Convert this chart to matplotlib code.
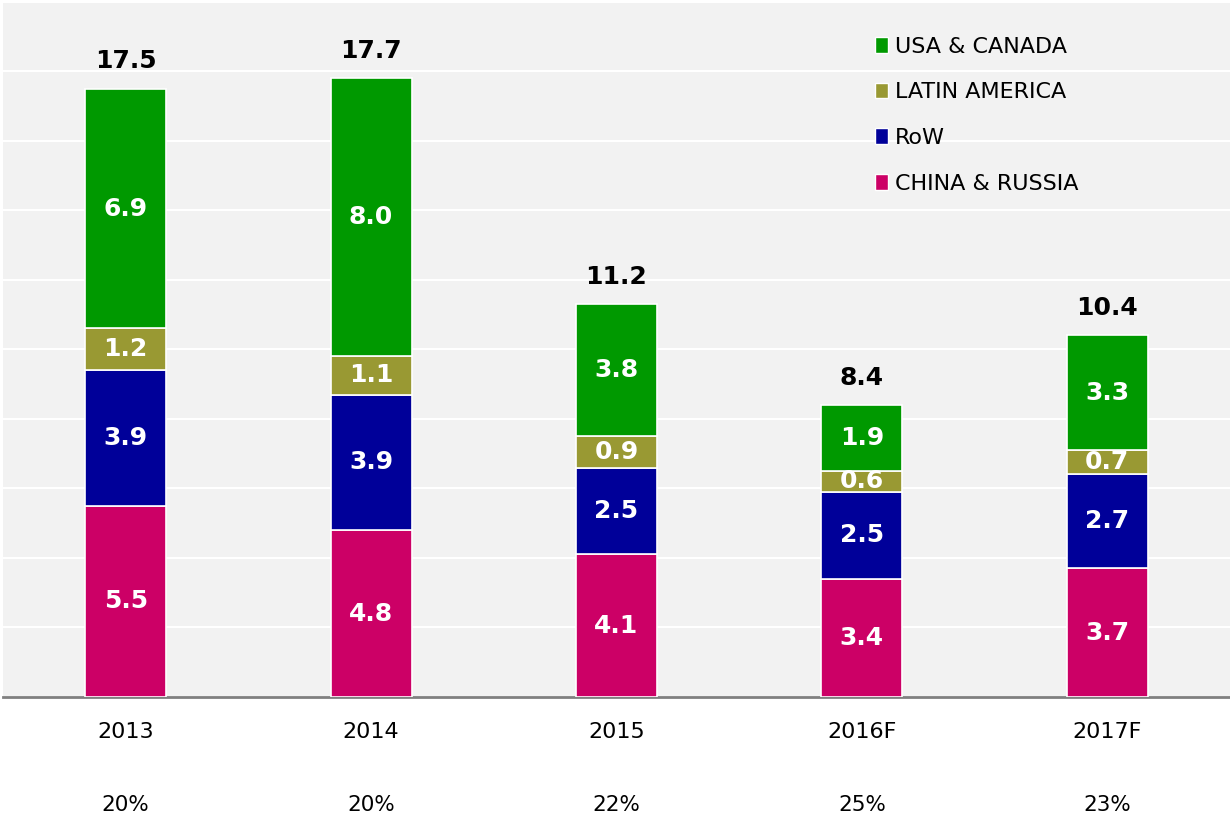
import matplotlib.pyplot as plt
from matplotlib.patches import Patch
from matplotlib.transforms import blended_transform_factory

# data
years = ["2013", "2014", "2015", "2016F", "2017F"]
china_russia = [5.5, 4.8, 4.1, 3.4, 3.7]
row = [3.9, 3.9, 2.5, 2.5, 2.7]
latin_america = [1.2, 1.1, 0.9, 0.6, 0.7]
usa_canada = [6.9, 8.0, 3.8, 1.9, 3.3]
totals = [17.5, 17.7, 11.2, 8.4, 10.4]
shares = ["20%", "20%", "22%", "25%", "23%"]

series = [
    ("CHINA & RUSSIA", china_russia, "#CC0066"),
    ("RoW", row, "#000099"),
    ("LATIN AMERICA", latin_america, "#999933"),
    ("USA & CANADA", usa_canada, "#009900"),
]

plt.rcParams['font.family'] = ['Verdana', 'DejaVu Sans']

fig = plt.figure(figsize=(12.3, 8.18), dpi=100)
ax = fig.add_axes([3 / 1230, 121 / 818, 1 - 3 / 1230, 697 / 818 - 0.002])
ax.set_facecolor("#f2f2f2")

x = list(range(len(years)))
bottoms = [0.0] * len(years)
for name, vals, col in series:
    ax.bar(x, vals, width=0.33, bottom=bottoms, color=col,
           edgecolor="white", linewidth=1.2, zorder=3)
    for xi, v, b in zip(x, vals, bottoms):
        ax.text(xi, b + v / 2, f"{v:.1f}", ha="center", va="center",
                color="white", fontsize=18, fontweight="bold", zorder=4)
    bottoms = [b + v for b, v in zip(bottoms, vals)]

for xi, b, t in zip(x, bottoms, totals):
    ax.annotate(f"{t:.1f}", (xi, b), xytext=(0, 11), textcoords="offset points",
                ha="center", va="bottom", fontsize=18, fontweight="bold",
                color="black")

ax.set_xlim(-0.5, len(years) - 0.5)
ax.set_ylim(0, 20)
ax.set_yticks(range(0, 21, 2))
ax.set_yticklabels([])
ax.tick_params(axis="y", length=0)
ax.grid(axis="y", color="white", linewidth=1.5, zorder=1)
ax.set_axisbelow(True)

ax.set_xticks(x)
ax.set_xticklabels(years, fontsize=16)
ax.tick_params(axis="x", length=0, pad=18)

for s in ["top", "right", "left"]:
    ax.spines[s].set_visible(False)
ax.spines["bottom"].set_color("#808080")
ax.spines["bottom"].set_linewidth(2)

trans = blended_transform_factory(ax.transData, ax.transAxes)
for xi, s in zip(x, shares):
    ax.text(xi, -0.156, s, transform=trans, ha="center", va="center",
            fontsize=15.5)

handles = [Patch(facecolor=col, edgecolor="white", label=name)
           for name, vals, col in reversed(series)]
ax.legend(handles=handles, loc="upper left", bbox_to_anchor=(0.694, 0.978),
          frameon=False, fontsize=16, handlelength=0.6, handleheight=0.7,
          handletextpad=0.3, labelspacing=1.15)

fig.savefig("out.png", dpi=100)
